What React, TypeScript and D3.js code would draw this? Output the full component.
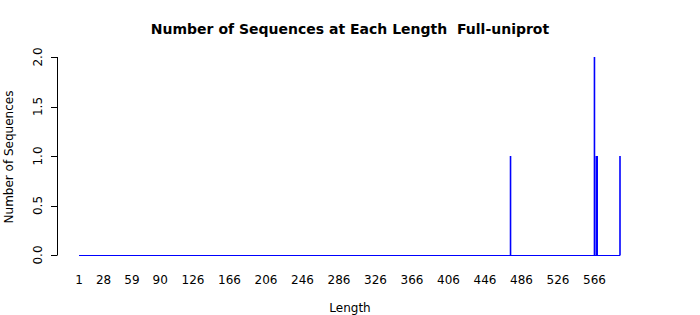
import React from "react";
import * as d3 from "d3";

const lengthRange = [1, 594];
const seqLengths = [474, 566, 568, 569, 594];
const seqCounts = [1, 2, 1, 1, 1];
const xTickLabels = [1, 28, 59, 90, 126, 166, 206, 246, 286, 326, 366, 406, 446, 486, 526, 566];
const yTicks = [0, 0.5, 1, 1.5, 2];

const W = 700;
const H = 315;
const FONT = "DejaVu Sans, sans-serif";

export default function App() {
  const x = d3.scaleLinear().domain(lengthRange).range([79, 620]);
  const y = d3.scaleLinear().domain([0, 2]).range([255, 57]);

  return (
    <svg
      width={W}
      height={H}
      style={{ position: "absolute", left: 0, top: 0, background: "#fff" }}
      fontFamily={FONT}
    >
      <rect width={W} height={H} fill="#fff" />
      <text
        x={350}
        y={34}
        textAnchor="middle"
        fontSize={14}
        fontWeight="bold"
        style={{ whiteSpace: "pre" }}
      >
        {"Number of Sequences at Each Length  Full-uniprot"}
      </text>
      <line
        x1={x(lengthRange[0])}
        x2={x(lengthRange[1])}
        y1={y(0) + 0.5}
        y2={y(0) + 0.5}
        stroke="#0000ff"
        strokeWidth={1.2}
      />
      {seqLengths.map((l, i) => (
        <line
          key={l}
          x1={x(l)}
          x2={x(l)}
          y1={y(0) + 0.5}
          y2={y(seqCounts[i])}
          stroke="#0000ff"
          strokeWidth={1.6}
        />
      ))}
      {/* y axis */}
      <line x1={57.5} x2={57.5} y1={y(0)} y2={y(2)} stroke="#000" />
      {yTicks.map((t) => (
        <g key={t}>
          <line x1={51} x2={57.5} y1={Math.round(y(t)) + 0.5} y2={Math.round(y(t)) + 0.5} stroke="#000" />
          <text
            transform={`translate(42,${y(t)}) rotate(-90)`}
            textAnchor="middle"
            fontSize={12}
          >
            {t.toFixed(1)}
          </text>
        </g>
      ))}
      {xTickLabels.map((t) => (
        <text key={t} x={x(t)} y={284} textAnchor="middle" fontSize={12}>
          {t}
        </text>
      ))}
      <text x={350} y={312} textAnchor="middle" fontSize={12}>
        Length
      </text>
      <text
        transform={`translate(13,157) rotate(-90)`}
        textAnchor="middle"
        fontSize={12}
      >
        Number of Sequences
      </text>
    </svg>
  );
}
